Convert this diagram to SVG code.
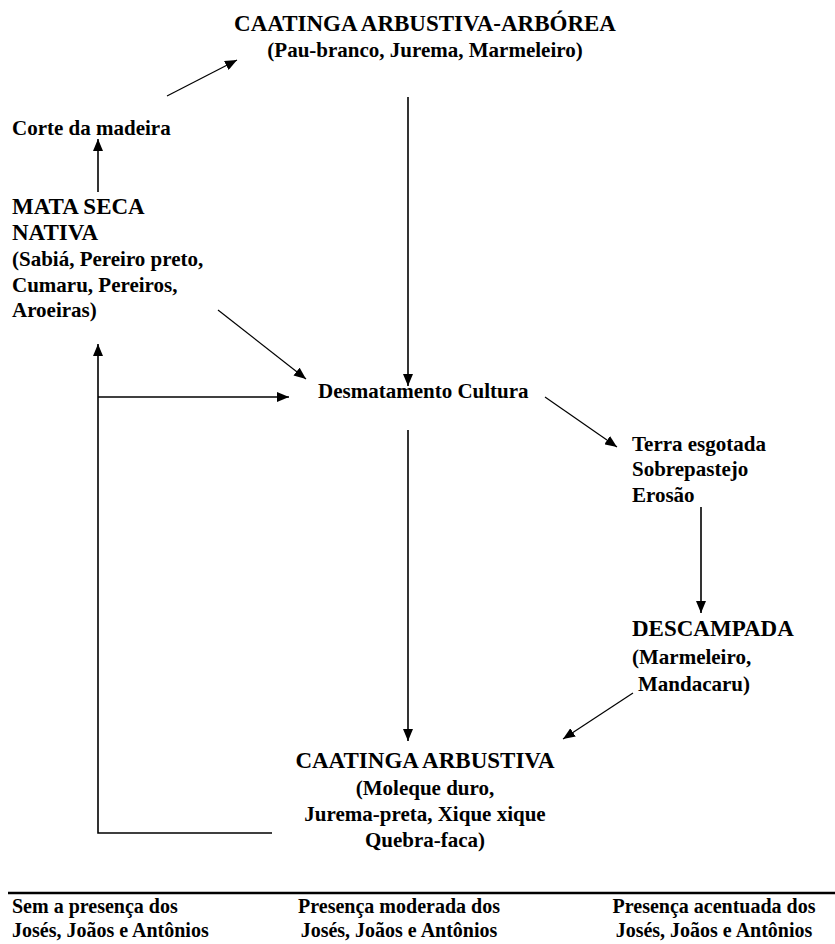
<svg xmlns="http://www.w3.org/2000/svg" width="835" height="944" viewBox="0 0 835 944">
<style>
text{font-family:"Liberation Serif","Times New Roman","DejaVu Serif",serif;font-weight:bold;fill:#000}
.h{font-size:23px}
.t{font-size:21px}
.b{font-size:20px}
.m{text-anchor:middle}
.ln{stroke:#000;stroke-width:1.6;fill:none}
.dg{stroke:#000;stroke-width:1.2;fill:none}
</style>
<defs>
<marker id="ah" markerUnits="userSpaceOnUse" markerWidth="12" markerHeight="10" refX="12" refY="5" orient="auto">
<path d="M0,0 L12,5 L0,10 z" fill="#000"/>
</marker>
</defs>
<rect width="835" height="944" fill="#fff"/>
<g id="connectors">
<line class="dg" x1="167" y1="96" x2="237" y2="60" marker-end="url(#ah)"/>
<line class="ln" x1="98" y1="192" x2="98" y2="139" marker-end="url(#ah)"/>
<line class="ln" x1="408" y1="97" x2="408" y2="386" marker-end="url(#ah)"/>
<line class="dg" x1="218" y1="310" x2="306" y2="379" marker-end="url(#ah)"/>
<line class="ln" x1="98" y1="397" x2="289" y2="397" marker-end="url(#ah)"/>
<line class="dg" x1="545" y1="397" x2="617" y2="447" marker-end="url(#ah)"/>
<line class="ln" x1="701" y1="507" x2="701" y2="613" marker-end="url(#ah)"/>
<line class="dg" x1="633" y1="693" x2="563" y2="739" marker-end="url(#ah)"/>
<line class="ln" x1="408" y1="430" x2="408" y2="741" marker-end="url(#ah)"/>
<polyline class="ln" points="272,833 98,833 98,344" marker-end="url(#ah)"/>
<line x1="8" y1="893" x2="835" y2="893" stroke="#000" stroke-width="2.5"/>
</g>
<g id="caatinga-arbustiva-arborea">
<text class="h m" x="425" y="31">CAATINGA ARBUSTIVA-ARBÓREA</text>
<text class="t m" x="425" y="57">(Pau-branco, Jurema, Marmeleiro)</text>
</g>
<g id="corte-madeira">
<text class="t" x="12" y="135">Corte da madeira</text>
</g>
<g id="mata-seca-nativa">
<text class="h" x="12" y="214">MATA SECA</text>
<text class="h" x="12" y="240">NATIVA</text>
<text class="t" x="12" y="266">(Sabiá, Pereiro preto,</text>
<text class="t" x="12" y="292">Cumaru, Pereiros,</text>
<text class="t" x="12" y="317">Aroeiras)</text>
</g>
<g id="desmatamento-cultura">
<text class="t" x="318" y="398">Desmatamento Cultura</text>
</g>
<g id="terra-esgotada">
<text class="t" x="632" y="451">Terra esgotada</text>
<text class="t" x="632" y="476">Sobrepastejo</text>
<text class="t" x="632" y="502">Erosão</text>
</g>
<g id="descampada">
<text class="h" x="632" y="636">DESCAMPADA</text>
<text class="t" x="632" y="664">(Marmeleiro,</text>
<text class="t" x="638" y="691">Mandacaru)</text>
</g>
<g id="caatinga-arbustiva">
<text class="h m" x="425" y="768">CAATINGA ARBUSTIVA</text>
<text class="t m" x="425" y="795">(Moleque duro,</text>
<text class="t m" x="425" y="821">Jurema-preta, Xique xique</text>
<text class="t m" x="425" y="847">Quebra-faca)</text>
</g>
<g id="legenda">
<text class="b" x="12" y="913">Sem a presença dos</text>
<text class="b" x="12" y="937">Josés, Joãos e Antônios</text>
<text class="b m" x="399" y="913">Presença moderada dos</text>
<text class="b m" x="399" y="937">Josés, Joãos e Antônios</text>
<text class="b m" x="714" y="913">Presença acentuada dos</text>
<text class="b m" x="714" y="937">Josés, Joãos e Antônios</text>
</g>
</svg>
